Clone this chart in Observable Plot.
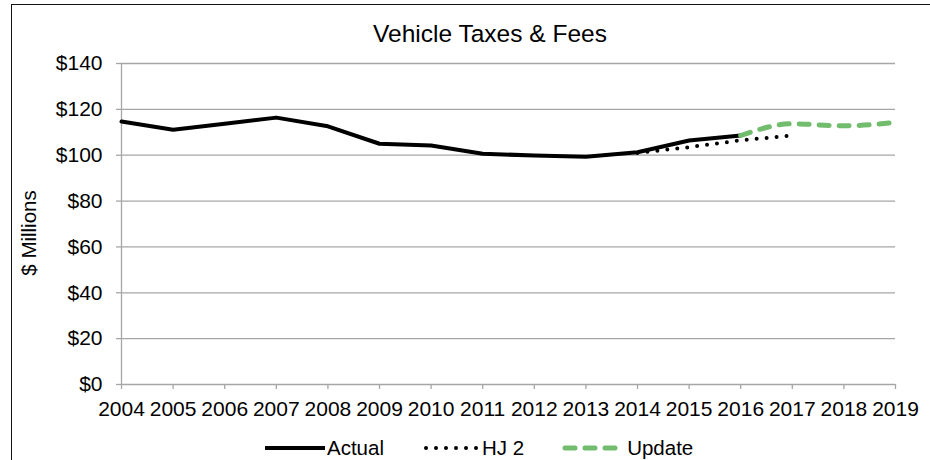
<!DOCTYPE html>
<html>
<head>
<meta charset="utf-8">
<script src="https://cdn.jsdelivr.net/npm/d3@7"></script>
<script src="https://cdn.jsdelivr.net/npm/@observablehq/plot@0.6"></script>
<style>
  html, body { margin: 0; padding: 0; background: #fff; }
  body { width: 930px; height: 460px; position: relative; overflow: hidden; font-family: "Liberation Sans", Arial, sans-serif; color: #000; }
  #frame { position: absolute; left: 11px; top: 4px; width: 1000px; height: 1000px; border-left: 1.5px solid #111; border-top: 1.5px solid #111; }
  #title { position: absolute; left: 0; width: 980px; top: 22px; text-align: center; font-size: 24.5px; line-height: 24.5px; }
  #chart { position: absolute; left: 0; top: 50px; }
  #legend { position: absolute; left: 264px; top: 436px; display: flex; align-items: center; font-size: 20.5px; line-height: 24px; }
  .item { display: flex; align-items: center; }
  .item svg { display: block; }
</style>
</head>
<body>
<div id="frame"></div>
<div id="title">Vehicle Taxes &amp; Fees</div>
<div id="chart"></div>
<div id="legend">
  <div class="item"><svg width="62" height="12"><line x1="1" y1="6" x2="61" y2="6" stroke="#000" stroke-width="4"/></svg><span style="margin-left:1px">Actual</span></div>
  <div class="item" style="margin-left:40px"><svg width="56" height="12"><line x1="2" y1="6" x2="54" y2="6" stroke="#000" stroke-width="4" stroke-linecap="round" stroke-dasharray="0 10"/></svg><span style="margin-left:2px">HJ 2</span></div>
  <div class="item" style="margin-left:38px"><svg width="56" height="12"><line x1="3" y1="6" x2="53" y2="6" stroke="#72bd6d" stroke-width="5" stroke-linecap="round" stroke-dasharray="10 10"/></svg><span style="margin-left:9px">Update</span></div>
</div>
<script>
const years = [2004,2005,2006,2007,2008,2009,2010,2011,2012,2013,2014,2015,2016,2017,2018,2019];
const yTicks = [0,20,40,60,80,100,120,140];

const actualYears = [2004,2005,2006,2007,2008,2009,2010,2011,2012,2013,2014,2015,2016];
const actualValues = [114.7,111.1,113.7,116.4,112.6,105.0,104.2,100.6,99.9,99.3,101.3,106.4,108.6];

const hj2Years = [2014,2015,2016,2017];
const hj2Values = [101.0,103.5,106.5,108.6];

const updateYears = [2016,2017,2018,2019];
const updateValues = [108.6,113.7,112.8,114.3];

const toRows = (xs, vs) => xs.map((x, i) => ({year: x, value: vs[i]}));
const actual = toRows(actualYears, actualValues);
const hj2 = toRows(hj2Years, hj2Values);
const update = toRows(updateYears, updateValues);

const grid = "#a6a6a6";

const chart = Plot.plot({
  width: 930,
  height: 370,
  marginTop: 13,
  marginBottom: 36,
  marginLeft: 121,
  marginRight: 35,
  x: {type: "linear", domain: [2004, 2019]},
  y: {domain: [0, 140]},
  style: {fontFamily: "'Liberation Sans', Arial, sans-serif", fontSize: "21px", color: "#000", background: "transparent", overflow: "visible"},
  marks: [
    Plot.ruleY(yTicks, {stroke: grid, strokeWidth: 1.3}),
    Plot.ruleX([2004], {stroke: grid, strokeWidth: 1.3}),
    Plot.axisX({ticks: years, tickFormat: d => String(d), tickSize: 5, tickPadding: 12, stroke: grid, strokeWidth: 1.3, fill: "#000", label: null, fontSize: 21}),
    Plot.axisY({ticks: yTicks, tickFormat: d => "$" + d, tickSize: 5, tickPadding: 14, stroke: grid, strokeWidth: 1.3, fill: "#000", label: null, fontSize: 21}),
    Plot.text(["$ Millions"], {frameAnchor: "left", rotate: -90, dx: -92, dy: 9, fontSize: 20.5, fill: "#000", textAnchor: "middle", lineAnchor: "middle"}),
    Plot.line(actual, {x: "year", y: "value", stroke: "#000", strokeWidth: 4, strokeLinejoin: "round"}),
    Plot.line(hj2, {x: "year", y: "value", stroke: "#000", strokeWidth: 4, strokeLinecap: "round", strokeDasharray: "0 10"}),
    Plot.line(update, {x: "year", y: "value", stroke: "#72bd6d", strokeWidth: 5, strokeLinecap: "round", strokeDasharray: "10 10", curve: "monotone-x"})
  ]
});
document.getElementById("chart").appendChild(chart);
</script>
</body>
</html>
